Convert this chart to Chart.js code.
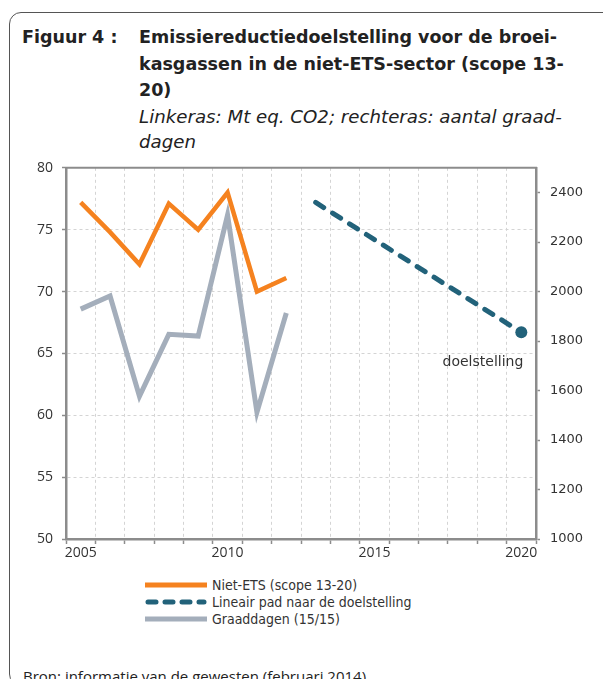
<!DOCTYPE html>
<html>
<head>
<meta charset="utf-8">
<script src="https://cdn.jsdelivr.net/npm/chart.js@4.4.1/dist/chart.umd.min.js"></script>
<style>
  html, body { margin: 0; padding: 0; background: #fff; }
  body { width: 603px; height: 679px; overflow: hidden; position: relative; font-family: "DejaVu Sans", sans-serif; color: #222; }
  #frame { position: absolute; left: 9px; top: 12px; width: 640px; height: 672px; border: 1.5px solid #555; border-radius: 12px; }
  .fig { position: absolute; left: 22px; top: 24px; font-weight: bold; font-size: 17.5px; line-height: 26px; }
  .title { position: absolute; left: 139px; top: 24px; font-size: 17.5px; line-height: 26.5px; }
  .title b { font-weight: bold; }
  .title i { display: block; font-style: italic; font-size: 18.2px; line-height: 25px; }
  #chartWrap { position: absolute; left: 0; top: 150px; width: 603px; height: 414px; }
  #legend { position: absolute; left: 145px; top: 577px; font-family: "DejaVu Sans Condensed", "DejaVu Sans", sans-serif; font-size: 14px; color: #333; }
  #legend div { height: 17px; line-height: 17px; white-space: nowrap; }
  #legend svg { vertical-align: middle; margin-right: 5px; position: relative; top: -1px; }
  .source { position: absolute; left: 23px; top: 666px; font-family: "Open Sans", sans-serif; font-size: 15px; color: #222; white-space: nowrap; }
</style>
</head>
<body>
<div id="frame"></div>
<div class="fig">Figuur 4 :</div>
<div class="title">
  <b>Emissiereductiedoelstelling voor de broei-<br>kasgassen in de niet-ETS-sector (scope 13-<br>20)</b>
  <i>Linkeras: Mt eq. CO2; rechteras: aantal graad-<br>dagen</i>
</div>
<div id="chartWrap"><canvas id="chart" width="603" height="414"></canvas></div>
<div id="legend"></div>
<div class="source">Bron: informatie van de gewesten (februari 2014)</div>

<script>
// years on the x axis
var years = ["2005", "2006", "2007", "2008", "2009", "2010", "2011", "2012",
             "2013", "2014", "2015", "2016", "2017", "2018", "2019", "2020"];

// Mt eq. CO2 (left axis)
var nietEts = [77.2, 74.8, 72.2, 77.1, 75.0, 78.0, 70.0, 71.1,
               null, null, null, null, null, null, null, null];
var linearPath = [null, null, null, null, null, null, null, null,
                  77.2, null, null, null, null, null, null, 66.7];

// degree days (right axis)
var graaddagen = [1929, 1982, 1577, 1827, 1820, 2309, 1512, 1913,
                  null, null, null, null, null, null, null, null];

var leftTicks = { min: 50, max: 80, step: 5 };
var rightTicks = { min: 1000, max: 2500, step: 200 };
var targetLabel = "doelstelling";

var axisColor = "#8c8c8c";
var gridColor = "#d4d4d4";

// box around the plot: top edge + target label
var extras = {
  id: "extras",
  afterDraw(chart) {
    var ctx = chart.ctx;
    var a = chart.chartArea;
    ctx.save();
    ctx.strokeStyle = axisColor;
    ctx.lineWidth = 2;
    ctx.beginPath();
    ctx.moveTo(a.left - 1, a.top);
    ctx.lineTo(a.right + 1, a.top);
    ctx.stroke();

    var meta = chart.getDatasetMeta(1);
    var last = meta.data[meta.data.length - 1];
    ctx.fillStyle = "#333";
    ctx.font = "14px 'DejaVu Sans'";
    ctx.textAlign = "right";
    ctx.textBaseline = "middle";
    ctx.fillText(targetLabel, last.x + 2, last.y + 30);
    ctx.restore();
  },
};

var config = {
  type: "line",
  data: {
    labels: years,
    datasets: [
      {
        label: "Niet-ETS (scope 13-20)",
        data: nietEts,
        yAxisID: "y",
        borderColor: "#f5821f",
        backgroundColor: "#f5821f",
        borderWidth: 4.5,
        pointRadius: 0,
        tension: 0,
      },
      {
        label: "Lineair pad naar de doelstelling",
        data: linearPath,
        yAxisID: "y",
        borderColor: "#22627a",
        backgroundColor: "#22627a",
        borderWidth: 5,
        borderDash: [9.5, 10.5],
        borderCapStyle: "round",
        spanGaps: true,
        pointRadius: linearPath.map((v, i) => (i == linearPath.length - 1 ? 6 : 0)),
        pointBorderWidth: 0,
        tension: 0,
      },
      {
        label: "Graaddagen (15/15)",
        data: graaddagen,
        yAxisID: "y2",
        borderColor: "#a4aebb",
        backgroundColor: "#a4aebb",
        borderWidth: 5,
        pointRadius: 0,
        tension: 0,
      },
    ],
  },
  options: {
    responsive: false,
    animation: false,
    layout: { padding: { top: 13, left: 0, right: 0, bottom: 0 } },
    plugins: {
      legend: { display: false },
      tooltip: { enabled: false },
    },
    scales: {
      x: {
        type: "category",
        offset: true,
        afterFit(s) { s.height = 25; },
        grid: {
          offset: true,
          color: gridColor,
          tickColor: axisColor,
          tickLength: 5,
          tickWidth: 1.5,
        },
        border: { color: axisColor, width: 2.5, dash: [3, 3] },
        ticks: {
          autoSkip: false,
          maxRotation: 0,
          padding: 1,
          color: "#333",
          font: { family: "Open Sans", size: 14 },
          callback(value) {
            var y = years[value];
            return Number(y) % 5 == 0 ? y : "";
          },
        },
      },
      y: {
        position: "left",
        min: leftTicks.min,
        max: leftTicks.max,
        afterFit(s) { s.width = 66; },
        grid: { color: gridColor, tickColor: axisColor, tickLength: 4, tickWidth: 1.5 },
        border: { color: axisColor, width: 2.5, dash: [3, 3] },
        ticks: {
          stepSize: leftTicks.step,
          padding: 9,
          color: "#333",
          font: { family: "Open Sans", size: 14 },
        },
      },
      y2: {
        position: "right",
        min: rightTicks.min,
        max: rightTicks.max,
        afterFit(s) { s.width = 67; },
        grid: { drawOnChartArea: false, tickColor: axisColor, tickLength: 4, tickWidth: 1.5 },
        border: { color: axisColor, width: 2.5 },
        ticks: {
          stepSize: rightTicks.step,
          includeBounds: false,
          padding: 10,
          color: "#333",
          font: { family: "DejaVu Sans", size: 13 },
          callback: (v) => String(v),
        },
      },
    },
  },
  plugins: [extras],
};

var chart = new Chart(document.getElementById("chart"), config);

// legend below the chart, one row per series
var legend = document.getElementById("legend");
chart.data.datasets.forEach(function (ds) {
  var row = document.createElement("div");
  var dash = ds.borderDash ? ' stroke-dasharray="8 9" stroke-linecap="round"' : "";
  var off = ds.borderDash ? 3 : 0;
  row.innerHTML =
    '<svg width="62" height="8"><line x1="' + off + '" y1="4" x2="' + (62 - off) + '" y2="4" stroke="' +
    ds.borderColor + '" stroke-width="5"' + dash + "/></svg>";
  row.appendChild(document.createTextNode(ds.label));
  legend.appendChild(row);
});
</script>
</body>
</html>
